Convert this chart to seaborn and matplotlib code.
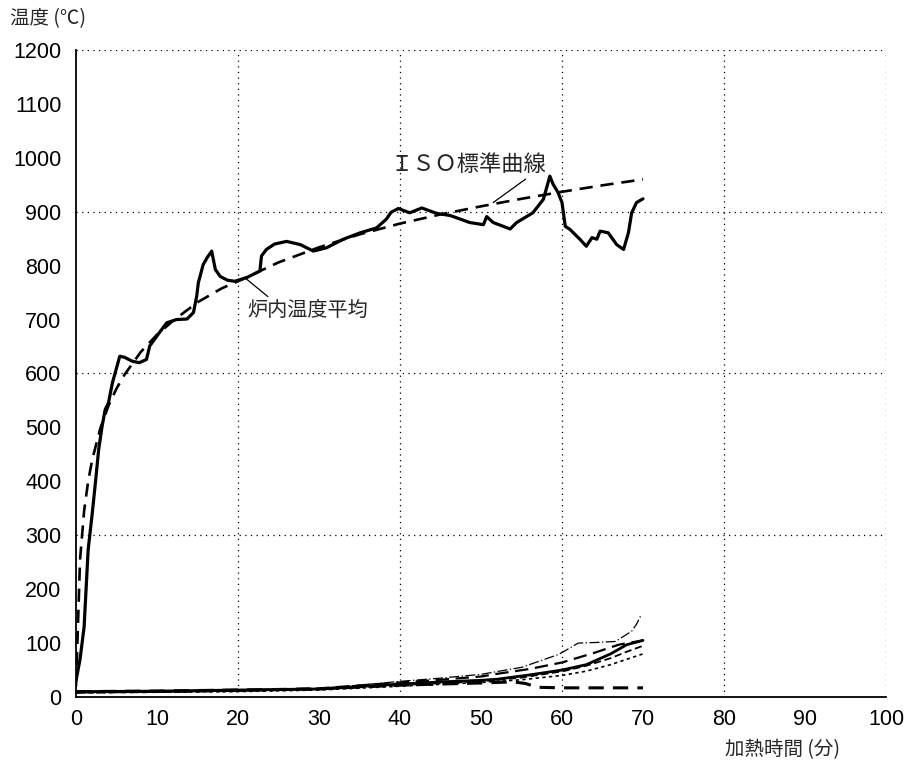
"""Furnace test: ISO standard curve vs. measured furnace temperature."""

import matplotlib
matplotlib.use("Agg")
import numpy as np
import pandas as pd
import matplotlib.pyplot as plt
import seaborn as sns

# ISO standard heating curve
iso_t = [0, 0.5, 1, 1.5, 2, 3, 4, 5, 6, 8, 10, 12, 15, 18, 20, 25, 30,
         35, 40, 45, 50, 55, 60, 65, 70]
iso_T = [20, 255, 345, 400, 440, 498, 540, 572, 598, 640, 672, 698, 732,
         758, 771, 806, 834, 858, 878, 895, 910, 924, 937, 949, 960]

# furnace average temperature
avg_t = [0, 0.5, 1, 1.5, 2, 2.4, 2.8, 3.2, 3.6, 4.0, 4.5, 5.0, 5.4, 6.0,
         6.9, 7.8, 8.7, 9.1, 10.4, 11.2, 12.4, 13.7, 14.5, 14.9, 15.1,
         15.7, 16.2, 16.75, 17.2, 17.8, 18.7, 19.6, 21.1, 22.7, 22.9, 23.5,
         24.5, 26, 27.7, 29.3, 30.9, 33, 35.1, 37.1, 38.3, 38.9, 39.8, 41.2,
         42.7, 44.5, 46.2, 48.6, 50.3, 50.7, 51.5, 53.6, 54.4, 56.4, 57.7,
         58.5, 58.9, 59.5, 60.0, 60.4, 61, 62.2, 63, 63.7, 64.3, 64.7, 65.7,
         66.75, 67.6, 68.2, 68.6, 69.2, 70]
avg_T = [30, 70, 130, 273, 340, 398, 459, 500, 533, 545, 583, 610, 632, 630,
         623, 620, 626, 651, 678, 694, 700, 701, 713, 743, 768, 802, 815,
         827, 793, 780, 773, 771, 778, 790, 818, 830, 840, 845, 839, 827,
         833, 849, 861, 870, 886, 899, 906, 898, 907, 897, 893, 880, 876,
         891, 880, 868, 880, 898, 923, 966, 951, 936, 917, 873, 867, 849,
         836, 852, 849, 864, 861, 839, 830, 861, 898, 917, 924]

# specimen temperatures (lower bundle)
a_t = [0, 10, 20, 30, 40, 45, 50, 55, 59.6, 62, 64, 66.6, 68.6, 69.2, 69.7]
a_T = [8, 9, 11, 15, 29, 35, 42, 55, 79, 100, 101, 103, 122, 135, 150]
b_t = [0, 10, 20, 30, 40, 45, 50, 52, 56, 60, 64, 67, 70]
b_T = [9, 10, 12, 16, 27, 32, 38, 43, 52, 64, 82, 97, 105]
c_t = [0, 10, 20, 30, 40, 45, 50, 52, 56, 60, 63, 66, 68, 70]
c_T = [10, 11, 13, 15, 24, 28, 31, 33, 41, 50, 60, 80, 97, 105]
d_t = [0, 10, 20, 30, 40, 50, 55, 60.2, 63, 66, 68, 70]
d_T = [8, 9, 11, 14, 22, 29, 36, 48, 58, 72, 84, 95]
e_t = [0, 10, 20, 30, 40, 50, 55, 60, 63, 66, 68, 70]
e_T = [8, 9, 10, 13, 20, 27, 32, 40, 48, 60, 70, 80]
f_t = [0, 10, 20, 30, 40, 45, 50, 54, 55.5, 57, 60, 65, 70]
f_T = [10, 11, 13, 15, 22, 24, 26, 28, 25, 18, 17, 17, 17]

x_ticks = list(range(0, 101, 10))
y_ticks = list(range(0, 1201, 100))

sns.set_theme(style="white")
plt.rcParams["font.family"] = ["Liberation Sans", "Noto Sans CJK JP", "DejaVu Sans"]
JP = ["Noto Sans CJK JP", "DejaVu Sans"]

fig = plt.figure(figsize=(9.19, 7.70), dpi=100)
ax = fig.add_axes([0.0827, 0.0948, 0.8814, 0.8403])


def draw(t, T, lw, ls):
    df = pd.DataFrame({"t": t, "T": T})
    sns.lineplot(data=df, x="t", y="T", ax=ax, color="black", linewidth=lw,
                 linestyle=ls, estimator=None, sort=False)


# specimen bundle first, then main curves on top
draw(f_t, f_T, 2.2, (0, (5, 3)))
draw(e_t, e_T, 1.2, (0, (2, 2)))
draw(d_t, d_T, 1.3, (0, (4, 2)))
draw(c_t, c_T, 2.0, "-")
draw(b_t, b_T, 1.6, (0, (6, 3)))
draw(a_t, a_T, 0.9, (0, (8, 2, 1, 2)))
draw(iso_t, iso_T, 1.9, (0, (5, 3)))
draw(avg_t, avg_T, 2.3, "-")

ax.set_xlim(0, 100)
ax.set_ylim(0, 1200)
ax.set_xticks(x_ticks)
ax.set_yticks(y_ticks)
ax.set_xlabel("")
ax.set_ylabel("")
ax.tick_params(axis="both", direction="inout", length=7, width=1,
               colors="black", labelsize=15.5)
ax.tick_params(axis="y", pad=7)
ax.tick_params(axis="x", pad=5)

for s in ["top", "right"]:
    ax.spines[s].set_visible(False)
for s in ["left", "bottom"]:
    ax.spines[s].set_color("black")
    ax.spines[s].set_linewidth(1.3)

# dotted grid
for v in [300, 600, 900, 1200]:
    ax.axhline(v, color="black", lw=0.9, ls=(0, (1, 3.5)), zorder=0)
for v in [20, 40, 60, 80, 100]:
    ax.axvline(v, color="black", lw=0.9, ls=(0, (1, 3.5)), zorder=0)

# annotations
ax.annotate("ＩＳＯ標準曲線", xy=(51.5, 917), xytext=(58.0, 988),
            ha="right", va="center", fontsize=16, family=JP,
            arrowprops=dict(arrowstyle="-", color="black", lw=0.9,
                            shrinkA=0, shrinkB=0, relpos=(0.9, 0.0)))
ax.annotate("炉内温度平均", xy=(20.9, 777), xytext=(21.2, 717),
            ha="left", va="center", fontsize=14.5, family=JP,
            arrowprops=dict(arrowstyle="-", color="black", lw=0.9,
                            shrinkA=0, shrinkB=0,
                            relpos=(0.2, 1.0)))

fig.text(10 / 919, 1 - 19 / 770, "温度 (℃)", ha="left", va="center",
         fontsize=14, family=JP)
fig.text(725 / 919, 1 - 750 / 770, "加熱時間 (分)", ha="left", va="center",
         fontsize=14, family=JP)

fig.savefig("out.png", dpi=100)
plt.close(fig)
